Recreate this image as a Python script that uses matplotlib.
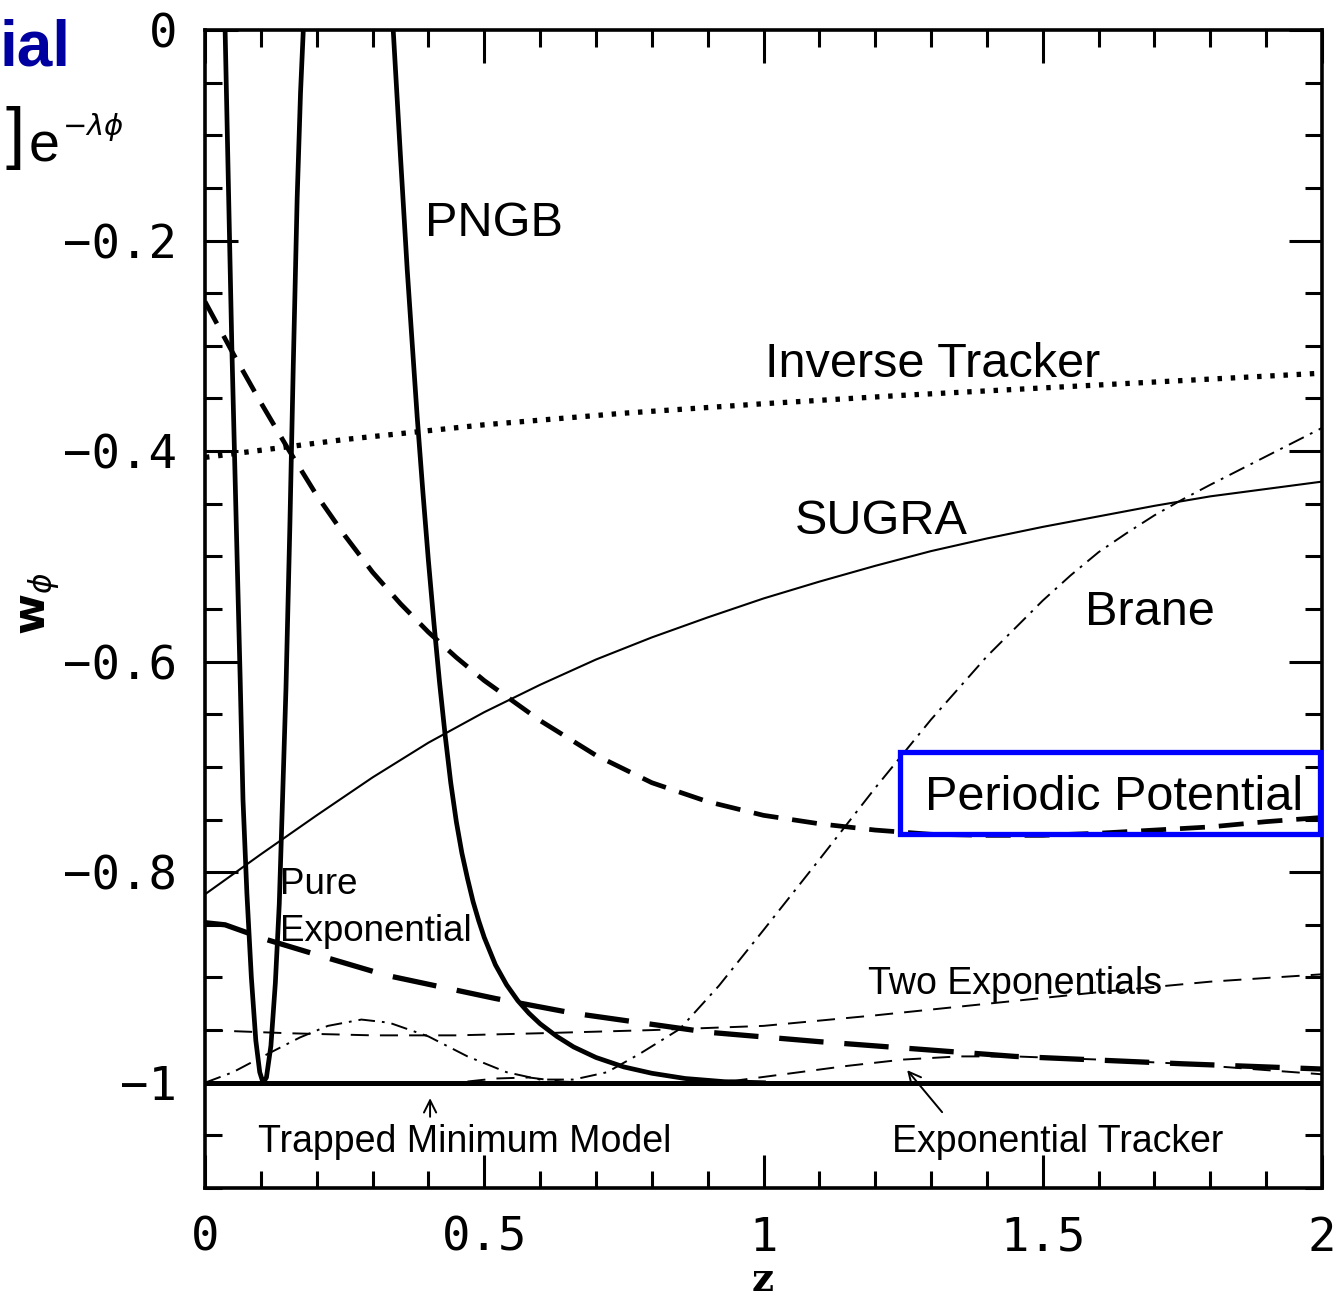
import numpy as np
import matplotlib
matplotlib.use('Agg')
import matplotlib.pyplot as plt
from matplotlib.patches import Rectangle
from matplotlib.ticker import MultipleLocator

plt.rcParams['lines.scale_dashes'] = False
plt.rcParams['mathtext.fontset'] = 'dejavusans'

nan = np.nan

# PNGB: oscillates through the plotted range, gap where w > 0
pngb_z = [0.034, 0.036, 0.042, 0.048, 0.056, 0.063, 0.068, 0.075, 0.083, 0.091, 0.098, 0.104,
          0.110, 0.118, 0.126, 0.133, 0.138, 0.145, 0.152, 0.158, 0.165, 0.171, 0.176, 0.178, nan,
          0.335, 0.337, 0.350, 0.362, 0.370, 0.380, 0.390, 0.400, 0.410, 0.420, 0.430, 0.440,
          0.450, 0.460, 0.470, 0.480, 0.490, 0.500, 0.520, 0.540, 0.560, 0.580, 0.600, 0.630,
          0.660, 0.700, 0.750, 0.800, 0.860, 0.930, 1.000]
pngb_w = [0.03, 0.0, -0.15, -0.30, -0.47, -0.617, -0.731, -0.82, -0.90, -0.96, -0.99, -1.0,
          -0.995, -0.965, -0.905, -0.83, -0.745, -0.625, -0.47, -0.32, -0.16, -0.06, 0.0, 0.03, nan,
          0.03, 0.0, -0.120, -0.227, -0.290, -0.368, -0.438, -0.504, -0.564, -0.620, -0.670, -0.715,
          -0.752, -0.782, -0.806, -0.828, -0.846, -0.862, -0.888, -0.907, -0.922, -0.934, -0.944,
          -0.956, -0.966, -0.976, -0.985, -0.991, -0.996, -0.999, -1.0]

inv_z = [0, 0.25, 0.5, 0.75, 1.0, 1.25, 1.5, 1.75, 2.0]
inv_w = [-0.406, -0.389, -0.375, -0.364, -0.355, -0.347, -0.340, -0.333, -0.326]

sugra_z = [0, 0.1, 0.2, 0.3, 0.4, 0.5, 0.6, 0.7, 0.8, 0.9, 1.0, 1.1, 1.2, 1.3, 1.4, 1.5, 1.6,
           1.7, 1.8, 1.9, 2.0]
sugra_w = [-0.821, -0.783, -0.746, -0.710, -0.677, -0.648, -0.622, -0.598, -0.577, -0.558,
           -0.540, -0.524, -0.509, -0.495, -0.483, -0.472, -0.462, -0.452, -0.443, -0.436, -0.429]

periodic_z = [0, 0.05, 0.1, 0.15, 0.2, 0.25, 0.3, 0.35, 0.4, 0.45, 0.5, 0.6, 0.7, 0.8, 0.9,
              1.0, 1.1, 1.2, 1.3, 1.4, 1.5, 1.6, 1.7, 1.8, 1.9, 2.0]
periodic_w = [-0.258, -0.307, -0.354, -0.399, -0.442, -0.480, -0.515, -0.545, -0.572, -0.596,
              -0.618, -0.656, -0.689, -0.715, -0.733, -0.746, -0.754, -0.760, -0.764, -0.765,
              -0.765, -0.763, -0.760, -0.757, -0.752, -0.748]

pureexp_z = [0, 0.036, 0.11, 0.21, 0.325, 0.52, 0.66, 0.9, 1.1, 1.45, 1.75, 2.0]
pureexp_w = [-0.848, -0.850, -0.864, -0.880, -0.898, -0.920, -0.934, -0.952, -0.961, -0.975,
             -0.982, -0.987]

twoexp_z = [0, 0.15, 0.3, 0.45, 0.6, 0.8, 1.0, 1.2, 1.4, 1.6, 1.8, 2.0]
twoexp_w = [-0.950, -0.953, -0.955, -0.955, -0.953, -0.950, -0.946, -0.936, -0.925, -0.914,
            -0.904, -0.897]

brane_z = [0, 0.05, 0.1, 0.17, 0.22, 0.28, 0.33, 0.40, 0.47, 0.54, 0.6, 0.66, 0.72, 0.78, 0.85,
           0.92, 1.0, 1.1, 1.2, 1.3, 1.4, 1.5, 1.55, 1.6, 1.65, 1.7, 1.75, 1.8, 1.9, 2.0]
brane_w = [-1.0, -0.99, -0.976, -0.957, -0.946, -0.940, -0.943, -0.956, -0.975, -0.990, -0.997,
           -0.997, -0.990, -0.972, -0.949, -0.908, -0.855, -0.788, -0.72, -0.655, -0.595, -0.542,
           -0.518, -0.496, -0.478, -0.461, -0.446, -0.432, -0.405, -0.378]

exptrack_z = [0, 0.45, 0.52, 0.58, 0.64, 0.7, 0.85, 0.95, 1.05, 1.15, 1.25, 1.35, 1.45, 1.6,
              1.75, 1.9, 2.0]
exptrack_w = [-1.0, -1.0, -0.996, -0.995, -0.999, -1.0, -1.0, -0.998, -0.991, -0.984, -0.978,
              -0.975, -0.975, -0.978, -0.982, -0.988, -0.992]

trapped_z = [0, 2]
trapped_w = [-1.0, -1.0]

fig = plt.figure(figsize=(13.38, 13.05), dpi=100)
ax = fig.add_axes([205 / 1338, 1 - 1188 / 1305, 1117 / 1338, 1158 / 1305])

ax.plot(trapped_z, trapped_w, color='black', lw=3.6, solid_capstyle='butt')
ax.plot(pngb_z, pngb_w, color='black', lw=3.4)
ax.plot(inv_z, inv_w, color='black', lw=3.8, linestyle=(0, (3.2, 6.3)))
ax.plot(sugra_z, sugra_w, color='black', lw=1.5)
ax.plot(periodic_z, periodic_w, color='black', lw=3.4, linestyle=(0, (18, 10)))
ax.plot(pureexp_z, pureexp_w, color='black', lw=3.8, linestyle=(0, (32, 15)))
ax.plot(twoexp_z, twoexp_w, color='black', lw=1.4, linestyle=(0, (13, 8)))
ax.plot(exptrack_z, exptrack_w, color='black', lw=1.4, linestyle=(0, (13, 8)))
ax.plot(brane_z, brane_w, color='black', lw=1.4, linestyle=(0, (12, 5, 2, 5)))

ax.set_xlim(0, 2)
ax.set_ylim(-1.1, 0)
ax.set_xticks([0, 0.5, 1, 1.5, 2])
ax.set_xticklabels(['0', '0.5', '1', '1.5', '2'])
ax.set_yticks([-1, -0.8, -0.6, -0.4, -0.2, 0])
ax.set_yticklabels(['\u22121', '\u22120.8', '\u22120.6', '\u22120.4', '\u22120.2', '0'])
ax.xaxis.set_minor_locator(MultipleLocator(0.1))
ax.yaxis.set_minor_locator(MultipleLocator(0.05))
ax.tick_params(which='both', direction='in', top=True, right=True, width=2.2)
ax.tick_params(which='major', length=24, labelsize=34, pad=20)
ax.tick_params(which='minor', length=12)
for lab in ax.get_xticklabels() + ax.get_yticklabels():
    lab.set_fontfamily('DejaVu Sans Mono')
for sp in ax.spines.values():
    sp.set_linewidth(2.6)

sans = 'Liberation Sans'
ax.text(0.394, -0.184, 'PNGB', fontsize=35, family=sans, va='center')
ax.text(1.003, -0.318, 'Inverse Tracker', fontsize=35, family=sans, va='center')
ax.text(1.056, -0.467, 'SUGRA', fontsize=35, family=sans, va='center')
ax.text(1.576, -0.553, 'Brane', fontsize=35, family=sans, va='center')
ax.text(1.289, -0.729, 'Periodic Potential', fontsize=35, family=sans, va='center')
ax.text(0.134, -0.812, 'Pure', fontsize=26.5, family=sans, va='center')
ax.text(0.134, -0.856, 'Exponential', fontsize=26.5, family=sans, va='center')
ax.text(1.187, -0.906, 'Two Exponentials', fontsize=27, family=sans, va='center')
ax.text(0.095, -1.056, 'Trapped Minimum Model', fontsize=27, family=sans, va='center')
ax.text(1.230, -1.056, 'Exponential Tracker', fontsize=27, family=sans, va='center')

ax.annotate('', xy=(0.403, -1.012), xytext=(0.403, -1.035),
            arrowprops=dict(arrowstyle='->', lw=1.4, color='black', mutation_scale=22))
ax.annotate('', xy=(1.254, -0.986), xytext=(1.323, -1.030),
            arrowprops=dict(arrowstyle='->', lw=1.4, color='black', mutation_scale=22))

ax.add_patch(Rectangle((1.244, -0.764), 0.752, 0.078, fill=False, edgecolor='#0000ff',
                       lw=3.8, clip_on=False, zorder=5))

fig.text(40 / 1338, 1 - 603 / 1305, r'$\mathbf{w}_{\phi}$', fontsize=32, rotation=90,
         ha='center', va='center', family='DejaVu Serif')
fig.text(763 / 1338, 1 - 1280 / 1305, 'z', fontsize=28, fontweight='bold',
         family='DejaVu Serif', ha='center', va='center')

# slide fragments visible at the left edge of the crop
fig.text(0.0, 1 - 48 / 1305, 'ial', fontsize=46, fontweight='bold',
         color='#0000a0', family=sans, ha='left', va='center')
fig.text(6 / 1338, 1 - 138 / 1305, ']', fontsize=50, family=sans, ha='left', va='center')
fig.text(29 / 1338, 1 - 147 / 1305, 'e', fontsize=40, family=sans, ha='left', va='center')
fig.text(62 / 1338, 1 - 127 / 1305, r'$-\lambda\phi$', fontsize=21, ha='left', va='center')

fig.savefig('out.png', dpi=100)
